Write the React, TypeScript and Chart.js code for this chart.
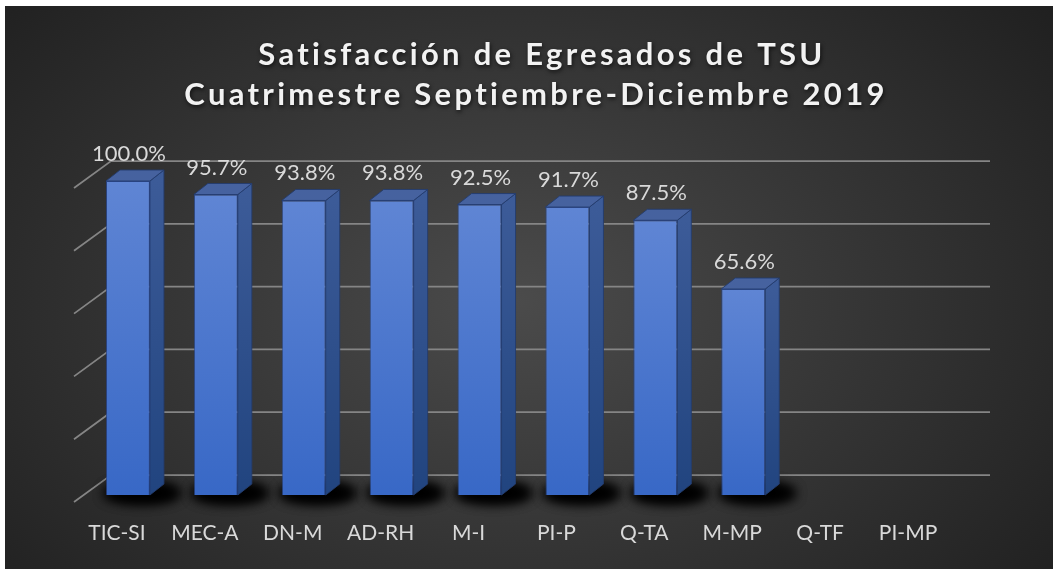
import React, { useEffect, useRef } from "react";
import { Chart, registerables } from "chart.js";

Chart.register(...registerables);

const categories = ["TIC-SI", "MEC-A", "DN-M", "AD-RH", "M-I", "PI-P", "Q-TA", "M-MP", "Q-TF", "PI-MP"];
const satisfaction: (number | null)[] = [100, 95.7, 93.8, 93.8, 92.5, 91.7, 87.5, 65.6, null, null];
const gridValues = [0, 20, 40, 60, 80, 100];
const titleLines = ["Satisfacción de Egresados de TSU", "Cuatrimestre Septiembre-Diciembre 2019"];

// 3D projection offsets (pixels) relative to the bar front plane
const BACK_DX = 27;
const BACK_DY = -20;
const FRONT_DX = -10;
const FRONT_DY = 7;
const BAR_DX = 14;
const BAR_DY = -11;

const backgroundPlugin = {
  id: "bg3d",
  beforeDraw(chart: any) {
    const { ctx, width, height } = chart;
    ctx.save();
    const cx = 510;
    const cy = 294;
    const sy = 0.68;
    ctx.translate(cx, cy);
    ctx.scale(1, sy);
    const g = ctx.createRadialGradient(0, 0, 0, 0, 0, 720);
    g.addColorStop(0, "#4b4b4b");
    g.addColorStop(1, "#1e1e1e");
    ctx.fillStyle = g;
    ctx.fillRect(-cx, -cy / sy, width, height / sy);
    ctx.restore();

    const ys = chart.scales.y;
    const area = chart.chartArea;
    ctx.save();
    ctx.strokeStyle = "#858585";
    ctx.lineWidth = 1.75;
    for (const t of gridValues) {
      const y = ys.getPixelForValue(t);
      ctx.beginPath();
      ctx.moveTo(area.left + FRONT_DX, y + FRONT_DY);
      ctx.lineTo(area.left + BACK_DX, y + BACK_DY);
      ctx.lineTo(area.right + BACK_DX, y + BACK_DY);
      ctx.stroke();
    }
    ctx.restore();
  },
};

const barDepthPlugin = {
  id: "bar3d",
  beforeDatasetsDraw(chart: any) {
    const { ctx } = chart;
    const meta = chart.getDatasetMeta(0);
    meta.data.forEach((bar: any, i: number) => {
      if (satisfaction[i] == null) return;
      const { x, y, base, width } = bar.getProps(["x", "y", "base", "width"], true);
      const l = x - width / 2;
      const r = x + width / 2;
      // floor shadow
      ctx.save();
      ctx.shadowColor = "rgba(0,0,0,1)";
      ctx.shadowBlur = 12;
      ctx.shadowOffsetX = 10000;
      ctx.fillStyle = "#000";
      for (let k = 0; k < 2; k++) {
        ctx.beginPath();
        ctx.ellipse(x + 14 - 10000, base - 2, width / 2 + 16, 10, 0, 0, Math.PI * 2);
        ctx.fill();
      }
      ctx.restore();

      // side face
      ctx.save();
      const sg = ctx.createLinearGradient(0, y, 0, base);
      sg.addColorStop(0, "#3c5b98");
      sg.addColorStop(1, "#21447f");
      ctx.fillStyle = sg;
      ctx.strokeStyle = "rgba(35,60,110,0.9)";
      ctx.lineWidth = 1;
      ctx.beginPath();
      ctx.moveTo(r, y);
      ctx.lineTo(r + BAR_DX, y + BAR_DY);
      ctx.lineTo(r + BAR_DX, base + BAR_DY);
      ctx.lineTo(r, base);
      ctx.closePath();
      ctx.fill();
      ctx.stroke();
      // top face
      ctx.fillStyle = "#46629f";
      ctx.beginPath();
      ctx.moveTo(l, y);
      ctx.lineTo(l + BAR_DX, y + BAR_DY);
      ctx.lineTo(r + BAR_DX, y + BAR_DY);
      ctx.lineTo(r, y);
      ctx.closePath();
      ctx.fill();
      ctx.stroke();
      ctx.restore();
    });
  },
  afterDatasetsDraw(chart: any) {
    const { ctx } = chart;
    const meta = chart.getDatasetMeta(0);
    ctx.save();
    ctx.font = "22px Lato";
    ctx.fillStyle = "#d9d9d9";
    ctx.textAlign = "center";
    ctx.textBaseline = "alphabetic";
    meta.data.forEach((bar: any, i: number) => {
      const v = satisfaction[i];
      if (v == null) return;
      const { x, y } = bar.getProps(["x", "y"], true);
      ctx.fillText(v.toFixed(1) + "%", x + 1, y - 20);
    });
    ctx.restore();
  },
};

const titlePlugin = {
  id: "title3d",
  afterDraw(chart: any) {
    const { ctx } = chart;
    ctx.save();
    ctx.font = "bold 31px Lato";
    (ctx as any).letterSpacing = "3.3px";
    ctx.textAlign = "center";
    ctx.textBaseline = "alphabetic";
    ctx.fillStyle = "#f2f2f2";
    ctx.shadowColor = "rgba(0,0,0,0.65)";
    ctx.shadowBlur = 4;
    ctx.shadowOffsetX = 1;
    ctx.shadowOffsetY = 2;
    ctx.fillText(titleLines[0], 537, 59);
    ctx.fillText(titleLines[1], 531, 99);
    ctx.restore();
  },
};

export default function App() {
  const ref = useRef<HTMLCanvasElement>(null);

  useEffect(() => {
    if (!ref.current) return;
    const chart = new Chart(ref.current, {
      type: "bar",
      data: {
        labels: categories,
        datasets: [
          {
            data: satisfaction,
            backgroundColor: (c: any) => {
              const ch = c.chart;
              const ys = ch.scales?.y;
              const v = c.raw;
              if (!ys || v == null || !ch.chartArea) return "#4472c4";
              const top = ys.getPixelForValue(v);
              const bottom = ys.getPixelForValue(0);
              const g = ch.ctx.createLinearGradient(0, top, 0, bottom);
              g.addColorStop(0, "#5f85d4");
              g.addColorStop(1, "#3868c6");
              return g;
            },
            borderColor: "rgba(40,70,140,0.8)",
            borderWidth: 1,
            barPercentage: 0.5,
            categoryPercentage: 1,
          },
        ],
      },
      options: {
        responsive: false,
        animation: false,
        devicePixelRatio: 1,
        layout: { padding: { left: 79, right: 90, top: 175, bottom: 24 } },
        plugins: {
          legend: { display: false },
          title: { display: false },
          tooltip: { enabled: false },
        },
        scales: {
          x: {
            grid: { display: false, drawTicks: false },
            border: { display: false },
            ticks: {
              color: "#d9d9d9",
              font: { family: "Lato", size: 21 },
              labelOffset: -11,
              padding: 26,
            },
            afterFit: (s: any) => {
              s.height = 50;
            },
          },
          y: { display: false, min: 0, max: 100 },
        },
      },
      plugins: [backgroundPlugin, barDepthPlugin, titlePlugin],
    });
    return () => chart.destroy();
  }, []);

  return (
    <div style={{ position: "absolute", left: 0, top: 0, width: 1053, height: 569, background: "#ffffff", overflow: "hidden" }}>
      <canvas ref={ref} width={1048} height={563} style={{ position: "absolute", left: 5, top: 6, width: 1048, height: 563 }} />
    </div>
  );
}
